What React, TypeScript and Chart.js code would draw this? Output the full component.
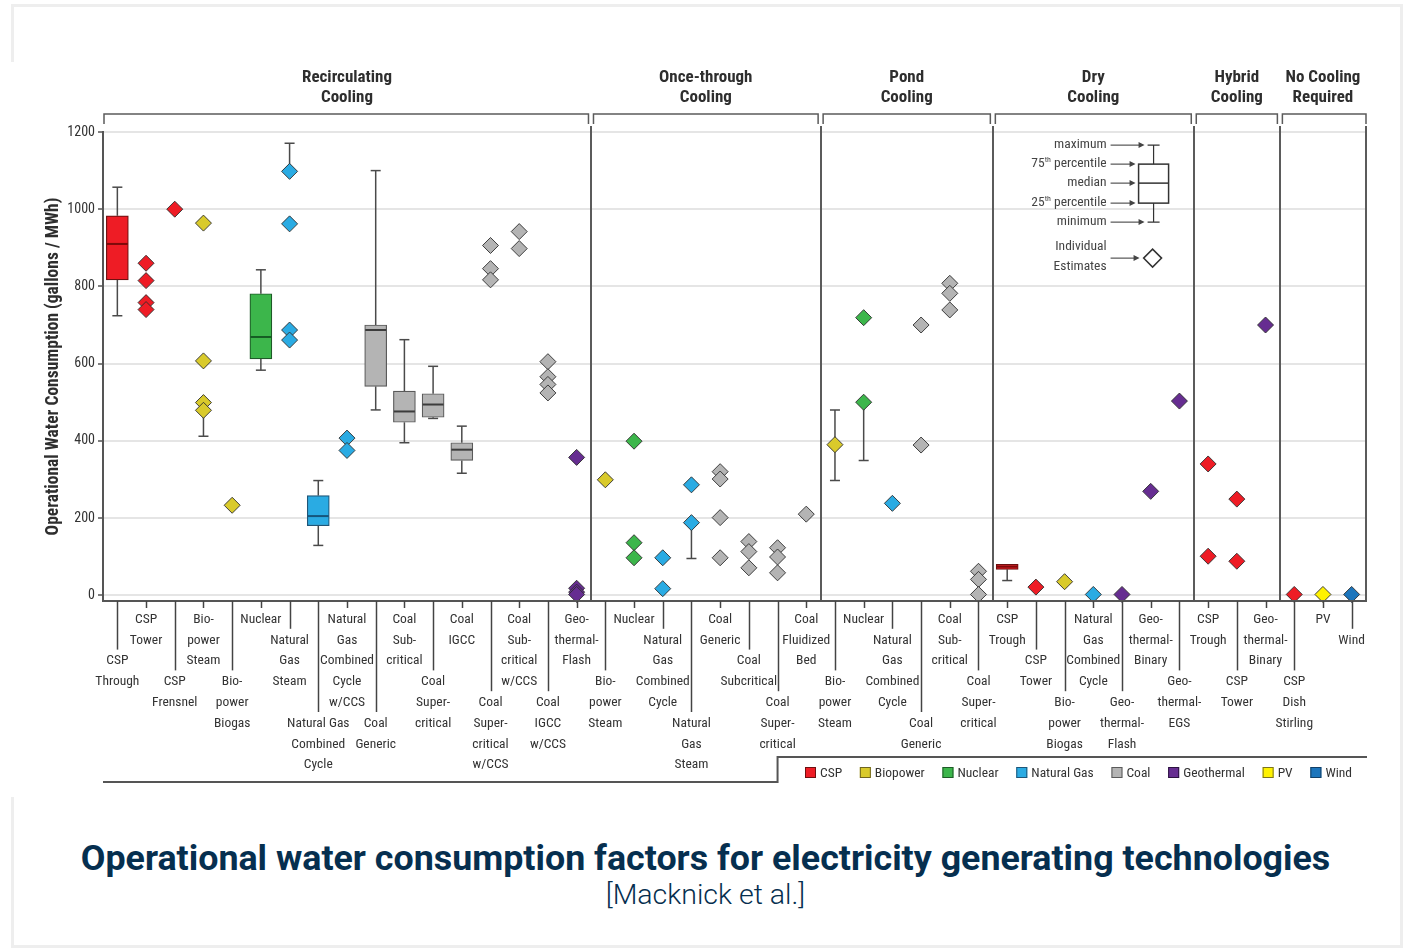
import React, { useEffect, useRef } from 'react';
import { Chart, registerables } from 'chart.js';

Chart.register(...registerables);

const NARROW = "'Roboto Condensed', 'Liberation Sans Narrow', sans-serif";

// Cooling-system groups: header lines and the first category index of each group
const groupNames: string[][] = [
  ['Recirculating', 'Cooling'],
  ['Once-through', 'Cooling'],
  ['Pond', 'Cooling'],
  ['Dry', 'Cooling'],
  ['Hybrid', 'Cooling'],
  ['No Cooling', 'Required'],
];
const groupStarts = [0, 17, 25, 31, 38, 41];

// Generating technologies along the x axis (label lines)
const categoryLabels: string[][] = [
  ['CSP', 'Through'],
  ['CSP', 'Tower'],
  ['CSP', 'Frensnel'],
  ['Bio-', 'power', 'Steam'],
  ['Bio-', 'power', 'Biogas'],
  ['Nuclear'],
  ['Natural', 'Gas', 'Steam'],
  ['Natural Gas', 'Combined', 'Cycle'],
  ['Natural', 'Gas', 'Combined', 'Cycle', 'w/CCS'],
  ['Coal', 'Generic'],
  ['Coal', 'Sub-', 'critical'],
  ['Coal', 'Super-', 'critical'],
  ['Coal', 'IGCC'],
  ['Coal', 'Super-', 'critical', 'w/CCS'],
  ['Coal', 'Sub-', 'critical', 'w/CCS'],
  ['Coal', 'IGCC', 'w/CCS'],
  ['Geo-', 'thermal-', 'Flash'],
  ['Bio-', 'power', 'Steam'],
  ['Nuclear'],
  ['Natural', 'Gas', 'Combined', 'Cycle'],
  ['Natural', 'Gas', 'Steam'],
  ['Coal', 'Generic'],
  ['Coal', 'Subcritical'],
  ['Coal', 'Super-', 'critical'],
  ['Coal', 'Fluidized', 'Bed'],
  ['Bio-', 'power', 'Steam'],
  ['Nuclear'],
  ['Natural', 'Gas', 'Combined', 'Cycle'],
  ['Coal', 'Generic'],
  ['Coal', 'Sub-', 'critical'],
  ['Coal', 'Super-', 'critical'],
  ['CSP', 'Trough'],
  ['CSP', 'Tower'],
  ['Bio-', 'power', 'Biogas'],
  ['Natural', 'Gas', 'Combined', 'Cycle'],
  ['Geo-', 'thermal-', 'Flash'],
  ['Geo-', 'thermal-', 'Binary'],
  ['Geo-', 'thermal-', 'EGS'],
  ['CSP', 'Trough'],
  ['CSP', 'Tower'],
  ['Geo-', 'thermal-', 'Binary'],
  ['CSP', 'Dish', 'Stirling'],
  ['PV'],
  ['Wind'],
];

// Technology index of each category (into `technologies`)
const categoryTech = [
  0, 0, 0, 1, 1, 2, 3, 3, 3, 4, 4, 4, 4, 4, 4, 4, 5,
  1, 2, 3, 3, 4, 4, 4, 4,
  1, 2, 3, 4, 4, 4,
  0, 0, 1, 3, 5, 5, 5,
  0, 0, 5,
  0, 6, 7,
];

const technologies = ['CSP', 'Biopower', 'Nuclear', 'Natural Gas', 'Coal', 'Geothermal', 'PV', 'Wind'];
const techColors = ['#ee1c25', '#d9ca2b', '#3cb64b', '#2aabe3', '#b4b4b4', '#662d91', '#fff200', '#1c75bc'];
const techEdgeColors = ['#6e1010', '#6f6520', '#1f5a28', '#1f5577', '#5a5a5a', '#2c1240', '#7a7320', '#123f66'];
const techMedianColors = ['#7d0a0a', '#6f6520', '#155c24', '#15557c', '#3c3c3c', '#2c1240', '#7a7320', '#123f66'];

const yTicks = [0, 200, 400, 600, 800, 1000, 1200];

// Box plots (gallons / MWh)
const boxCategory = [0, 5, 7, 9, 10, 11, 12, 31];
const boxMin = [724, 583, 129, 480, 395, 458, 316, 38];
const boxQ1 = [817, 612, 180, 541, 448, 461, 349, 67];
const boxMedian = [910, 669, 205, 687, 476, 494, 377, 74];
const boxQ3 = [983, 781, 258, 700, 529, 522, 395, 80];
const boxMax = [1057, 843, 297, 1100, 662, 593, 438, 80];

// Individual estimates (gallons / MWh)
const estimateCategory = [
  1, 1, 1, 1, 2, 3, 3, 3, 3, 4, 6, 6, 6, 6, 8, 8, 13, 13, 13, 14, 14, 15, 15, 15, 15, 16, 16, 16, 16,
  17, 18, 18, 18, 19, 19, 20, 20, 21, 21, 21, 21, 22, 22, 22, 23, 23, 23, 24,
  25, 26, 26, 27, 28, 28, 29, 29, 29, 30, 30, 30,
  32, 33, 34, 35, 36, 37,
  38, 38, 39, 39, 40,
  41, 42, 43,
];
const estimateValue = [
  860, 815, 758, 740, 1000, 964, 607, 499, 479, 233, 1098, 962, 687, 661, 407, 375, 906, 846, 817, 942, 898, 605, 566, 546, 524, 357, 18, 8, 2,
  299, 399, 136, 97, 97, 17, 286, 188, 320, 301, 201, 97, 139, 113, 71, 123, 99, 58, 210,
  390, 719, 500, 238, 700, 389, 808, 782, 739, 62, 41, 2,
  21, 35, 2, 2, 269, 503,
  340, 101, 249, 88, 700,
  2, 2, 2,
];

// Reported ranges around single estimates
const rangeCategory = [3, 6, 20, 25, 26];
const rangeLow = [412, 1098, 95, 297, 349];
const rangeHigh = [479, 1171, 188, 480, 500];

// Label row of each category below the axis (0 = directly under the axis)
const labelRow = [
  2, 0, 3, 0, 3, 0, 1, 5, 0, 5, 0, 3, 0, 4, 0, 4, 0,
  3, 0, 1, 5, 0, 2, 4, 0,
  3, 0, 1, 5, 0, 3,
  0, 2, 4, 0, 4, 0, 3,
  0, 3, 0,
  3, 0, 1,
];

const ROW_HEIGHT = 20.8;
const LABEL_SIZE = 13.5;

const center = (i: number) => i + 0.5;

function arrow(ctx: CanvasRenderingContext2D, x0: number, x1: number, yy: number) {
  ctx.beginPath();
  ctx.moveTo(x0, yy);
  ctx.lineTo(x1 - 4, yy);
  ctx.stroke();
  ctx.beginPath();
  ctx.moveTo(x1, yy);
  ctx.lineTo(x1 - 6, yy - 3);
  ctx.lineTo(x1 - 6, yy + 3);
  ctx.closePath();
  ctx.fill();
}

const decorations = {
  id: 'decorations',
  beforeDraw(chart: any) {
    const { ctx } = chart;
    ctx.save();
    ctx.fillStyle = '#ffffff';
    ctx.fillRect(11, 62, 1384, 735);
    ctx.restore();
  },
  beforeDatasetsDraw(chart: any) {
    const { ctx, chartArea, scales } = chart;
    const x = scales.x;
    const y = scales.y;
    ctx.save();

    // group dividers and right border
    ctx.strokeStyle = '#5b5b5b';
    ctx.lineWidth = 2;
    const bounds = groupStarts.slice(1).concat([categoryLabels.length]);
    bounds.forEach((b) => {
      const px = Math.round(x.getPixelForValue(b));
      ctx.beginPath();
      ctx.moveTo(px, 126);
      ctx.lineTo(px, chartArea.bottom);
      ctx.stroke();
    });

    // box whiskers
    ctx.strokeStyle = '#4a4a4a';
    ctx.lineWidth = 1.5;
    boxCategory.forEach((c, i) => {
      const px = x.getPixelForValue(center(c));
      const segs: [number, number][] = [[boxMax[i], boxQ3[i]], [boxQ1[i], boxMin[i]]];
      segs.forEach(([a, b]) => {
        if (a === b) return;
        ctx.beginPath();
        ctx.moveTo(px, y.getPixelForValue(a));
        ctx.lineTo(px, y.getPixelForValue(b));
        ctx.stroke();
      });
      [boxMax[i], boxMin[i]].forEach((v, k) => {
        if (v === (k === 0 ? boxQ3[i] : boxQ1[i])) return;
        const py = y.getPixelForValue(v);
        ctx.beginPath();
        ctx.moveTo(px - 5, py);
        ctx.lineTo(px + 5, py);
        ctx.stroke();
      });
    });

    // ranges of single estimates
    rangeCategory.forEach((c, i) => {
      const px = x.getPixelForValue(center(c));
      const p0 = y.getPixelForValue(rangeLow[i]);
      const p1 = y.getPixelForValue(rangeHigh[i]);
      ctx.beginPath();
      ctx.moveTo(px, p0);
      ctx.lineTo(px, p1);
      ctx.moveTo(px - 5, p0);
      ctx.lineTo(px + 5, p0);
      ctx.moveTo(px - 5, p1);
      ctx.lineTo(px + 5, p1);
      ctx.stroke();
    });
    ctx.restore();
  },
  afterDatasetsDraw(chart: any) {
    const { ctx, scales } = chart;
    const x = scales.x;
    const y = scales.y;
    ctx.save();
    ctx.lineWidth = 2;
    boxCategory.forEach((c, i) => {
      const px = x.getPixelForValue(center(c));
      const py = y.getPixelForValue(boxMedian[i]);
      ctx.strokeStyle = techMedianColors[categoryTech[c]];
      ctx.beginPath();
      ctx.moveTo(px - 10.5, py);
      ctx.lineTo(px + 10.5, py);
      ctx.stroke();
    });
    ctx.restore();
  },
  afterDraw(chart: any) {
    const { ctx, chartArea, scales } = chart;
    const x = scales.x;
    const y = scales.y;
    const n = categoryLabels.length;
    ctx.save();

    // group brackets and headers
    ctx.strokeStyle = '#5b5b5b';
    ctx.lineWidth = 1.5;
    ctx.fillStyle = '#2e2e2e';
    ctx.textAlign = 'center';
    ctx.textBaseline = 'middle';
    ctx.font = `bold 17px ${NARROW}`;
    groupStarts.forEach((s, g) => {
      const e = g + 1 < groupStarts.length ? groupStarts[g + 1] : n;
      const x0 = g === 0 ? chartArea.left + 1 : x.getPixelForValue(s) + 2.5;
      const x1 = g === groupStarts.length - 1 ? x.getPixelForValue(e) : x.getPixelForValue(e) - 2.5;
      ctx.beginPath();
      ctx.moveTo(x0, 124);
      ctx.lineTo(x0, 114);
      ctx.lineTo(x1, 114);
      ctx.lineTo(x1, 124);
      ctx.stroke();
      const cx = (x.getPixelForValue(s) + x.getPixelForValue(e)) / 2;
      groupNames[g].forEach((line, k) => ctx.fillText(line, cx, 78 + k * 20));
    });

    // leader lines from the axis to each category label
    ctx.strokeStyle = '#444444';
    ctx.lineWidth = 1.5;
    categoryLabels.forEach((_, i) => {
      const px = Math.round(x.getPixelForValue(center(i))) + 0.5;
      ctx.beginPath();
      ctx.moveTo(px, chartArea.bottom);
      ctx.lineTo(px, chartArea.bottom + 7 + labelRow[i] * ROW_HEIGHT);
      ctx.stroke();
    });

    // frame line under the labels, stepping up around the legend
    const stepX = x.getPixelForValue(23.5);
    ctx.strokeStyle = '#555555';
    ctx.lineWidth = 2;
    ctx.beginPath();
    ctx.moveTo(chartArea.left, 782);
    ctx.lineTo(stepX, 782);
    ctx.lineTo(stepX, 757);
    ctx.lineTo(chartArea.right + 1, 757);
    ctx.stroke();

    // technology legend, spread between the step and the right edge
    ctx.font = `${LABEL_SIZE}px ${NARROW}`;
    ctx.textAlign = 'left';
    const widths = technologies.map((t) => ctx.measureText(t).width);
    const legendStart = 805;
    const legendEnd = chartArea.right - 14;
    const used = widths.reduce((s, w) => s + 15 + w, 0);
    const gap = (legendEnd - legendStart - used) / (technologies.length - 1);
    let lx = legendStart;
    technologies.forEach((t, i) => {
      ctx.fillStyle = techColors[i];
      ctx.fillRect(lx, 767, 11, 11);
      ctx.strokeStyle = techEdgeColors[i];
      ctx.lineWidth = 1;
      ctx.strokeRect(lx + 0.5, 767.5, 10, 10);
      ctx.fillStyle = '#333333';
      ctx.fillText(t, lx + 15, 774);
      lx += 15 + widths[i] + gap;
    });

    // box-plot key in the dry-cooling panel
    const bx = x.getPixelForValue(36.6);
    const top = y.getPixelForValue(1166);
    const textR = bx - 47;
    const ax0 = bx - 43;
    ctx.strokeStyle = '#333333';
    ctx.fillStyle = '#333333';
    ctx.lineWidth = 1.2;
    ctx.beginPath();
    ctx.moveTo(bx, top);
    ctx.lineTo(bx, top + 77);
    ctx.moveTo(bx - 6, top);
    ctx.lineTo(bx + 6, top);
    ctx.moveTo(bx - 6, top + 77);
    ctx.lineTo(bx + 6, top + 77);
    ctx.stroke();
    ctx.fillStyle = '#ffffff';
    ctx.fillRect(bx - 15, top + 19, 30, 39);
    ctx.lineWidth = 1.5;
    ctx.strokeRect(bx - 15, top + 19, 30, 39);
    ctx.beginPath();
    ctx.moveTo(bx - 15, top + 38);
    ctx.lineTo(bx + 15, top + 38);
    ctx.stroke();

    ctx.fillStyle = '#444444';
    ctx.lineWidth = 1;
    ctx.textAlign = 'right';
    const keyRows: [string, string, string, number, number][] = [
      ['', '', 'maximum', 0, bx - 9],
      ['75', 'th', ' percentile', 19, bx - 18],
      ['', '', 'median', 38, bx - 18],
      ['25', 'th', ' percentile', 58, bx - 18],
      ['', '', 'minimum', 77, bx - 9],
    ];
    keyRows.forEach(([num, sup, rest, dy, tip]) => {
      const yy = top + dy;
      ctx.font = `13.5px ${NARROW}`;
      const restW = ctx.measureText(rest).width;
      ctx.fillText(rest, textR, yy);
      if (num) {
        ctx.font = `8px ${NARROW}`;
        const supW = ctx.measureText(sup).width;
        ctx.fillText(sup, textR - restW, yy - 4);
        ctx.font = `13.5px ${NARROW}`;
        ctx.fillText(num, textR - restW - supW, yy);
      }
      arrow(ctx, ax0, tip, yy);
    });
    ctx.font = `13.5px ${NARROW}`;
    ctx.fillText('Individual', textR, top + 102);
    ctx.fillText('Estimates', textR, top + 122);
    arrow(ctx, ax0, bx - 14, top + 113);
    const dx = bx - 1;
    const dy = top + 113;
    ctx.beginPath();
    ctx.moveTo(dx - 9, dy);
    ctx.lineTo(dx, dy - 9);
    ctx.lineTo(dx + 9, dy);
    ctx.lineTo(dx, dy + 9);
    ctx.closePath();
    ctx.fillStyle = '#ffffff';
    ctx.fill();
    ctx.strokeStyle = '#333333';
    ctx.lineWidth = 1.5;
    ctx.stroke();

    ctx.restore();
  },
};

export default function App() {
  const canvasRef = useRef<HTMLCanvasElement | null>(null);

  useEffect(() => {
    const canvas = canvasRef.current;
    if (!canvas) return;

    const boxData = boxCategory.map((c, i) => ({ x: center(c), y: [boxQ1[i], boxQ3[i]] }));

    const estimateSets = technologies.map((t, ti) => ({
      type: 'scatter' as const,
      label: t,
      data: estimateCategory
        .map((c, i) => ({ c, v: estimateValue[i] }))
        .filter((d) => categoryTech[d.c] === ti)
        .map((d) => ({ x: center(d.c), y: d.v })),
      pointStyle: 'rectRot',
      pointRadius: 8,
      pointHoverRadius: 8,
      backgroundColor: techColors[ti],
      pointBackgroundColor: techColors[ti],
      borderColor: '#3a3a3a',
      pointBorderColor: 'rgba(45,45,45,0.9)',
      pointBorderWidth: 1,
      clip: false as const,
      order: 1,
    }));

    const chart = new Chart(canvas, {
      type: 'bar',
      data: {
        datasets: [
          {
            type: 'bar' as const,
            label: 'Box',
            data: boxData as any,
            backgroundColor: boxCategory.map((c) => techColors[categoryTech[c]]),
            borderColor: boxCategory.map((c) => techEdgeColors[categoryTech[c]]),
            borderWidth: 1.2,
            borderSkipped: false,
            barThickness: 22,
            order: 2,
          },
          ...(estimateSets as any[]),
        ],
      },
      options: {
        responsive: false,
        animation: false,
        devicePixelRatio: 1,
        events: [],
        layout: { padding: { left: 36, right: 37, top: 132, bottom: 19 } },
        plugins: {
          legend: { display: false },
          tooltip: { enabled: false },
          title: { display: false },
        },
        scales: {
          x: {
            type: 'linear',
            min: 0,
            max: categoryLabels.length,
            offset: false,
            grid: { display: false, drawTicks: false },
            border: { display: true, color: '#555555', width: 2, z: 1 },
            afterBuildTicks: (s: any) => {
              s.ticks = categoryLabels.map((_, i) => ({ value: center(i) }));
            },
            afterFit: (s: any) => {
              s.height = 180;
            },
            ticks: {
              autoSkip: false,
              maxRotation: 0,
              minRotation: 0,
              padding: 8,
              color: '#333333',
              font: { family: NARROW, size: LABEL_SIZE, lineHeight: ROW_HEIGHT / LABEL_SIZE },
              callback: (_v: any, i: number) => [
                ...Array(labelRow[i]).fill(''),
                ...categoryLabels[i],
              ],
            },
          },
          y: {
            type: 'linear',
            min: -15,
            max: 1200,
            afterBuildTicks: (s: any) => {
              s.ticks = yTicks.map((v) => ({ value: v }));
            },
            afterFit: (s: any) => {
              s.width = 67;
            },
            grid: {
              color: '#e5e5e5',
              lineWidth: 2,
              drawTicks: true,
              tickLength: 5,
              tickColor: '#555555',
              tickWidth: 1.5,
            },
            border: { display: true, color: '#555555', width: 2 },
            ticks: {
              padding: 3,
              color: '#333333',
              font: { family: NARROW, size: 14 },
              callback: (v: any) => String(v),
            },
            title: {
              display: true,
              text: 'Operational Water Consumption (gallons / MWh)',
              color: '#2e2e2e',
              font: { family: NARROW, size: 17.5, weight: 'bold' },
              padding: { top: 7, bottom: 0 },
            },
          },
        },
      },
      plugins: [decorations],
    } as any);

    return () => chart.destroy();
  }, []);

  return (
    <div
      style={{
        position: 'absolute',
        left: 0,
        top: 0,
        width: 1403,
        height: 949,
        overflow: 'hidden',
        background: '#ffffff',
      }}
    >
      <div
        style={{
          position: 'absolute',
          left: 11,
          top: 4,
          width: 1392,
          height: 944,
          border: '3px solid #eeeeee',
          boxSizing: 'border-box',
        }}
      />
      <canvas
        ref={canvasRef}
        width={1403}
        height={800}
        style={{ position: 'absolute', left: 0, top: 0, width: 1403, height: 800 }}
      />
      <div
        style={{
          position: 'absolute',
          left: 4,
          top: 836,
          width: 1403,
          textAlign: 'center',
          fontFamily: 'Roboto, sans-serif',
          fontWeight: 700,
          fontSize: 35.8,
          lineHeight: '44px',
          color: '#062f4f',
          whiteSpace: 'nowrap',
        }}
      >
        Operational water consumption factors for electricity generating technologies
      </div>
      <div
        style={{
          position: 'absolute',
          left: 4,
          top: 878,
          width: 1403,
          textAlign: 'center',
          fontFamily: 'Roboto, sans-serif',
          fontWeight: 300,
          fontSize: 28.5,
          lineHeight: '34px',
          color: '#062f4f',
          whiteSpace: 'nowrap',
        }}
      >
        [Macknick et al.]
      </div>
    </div>
  );
}
